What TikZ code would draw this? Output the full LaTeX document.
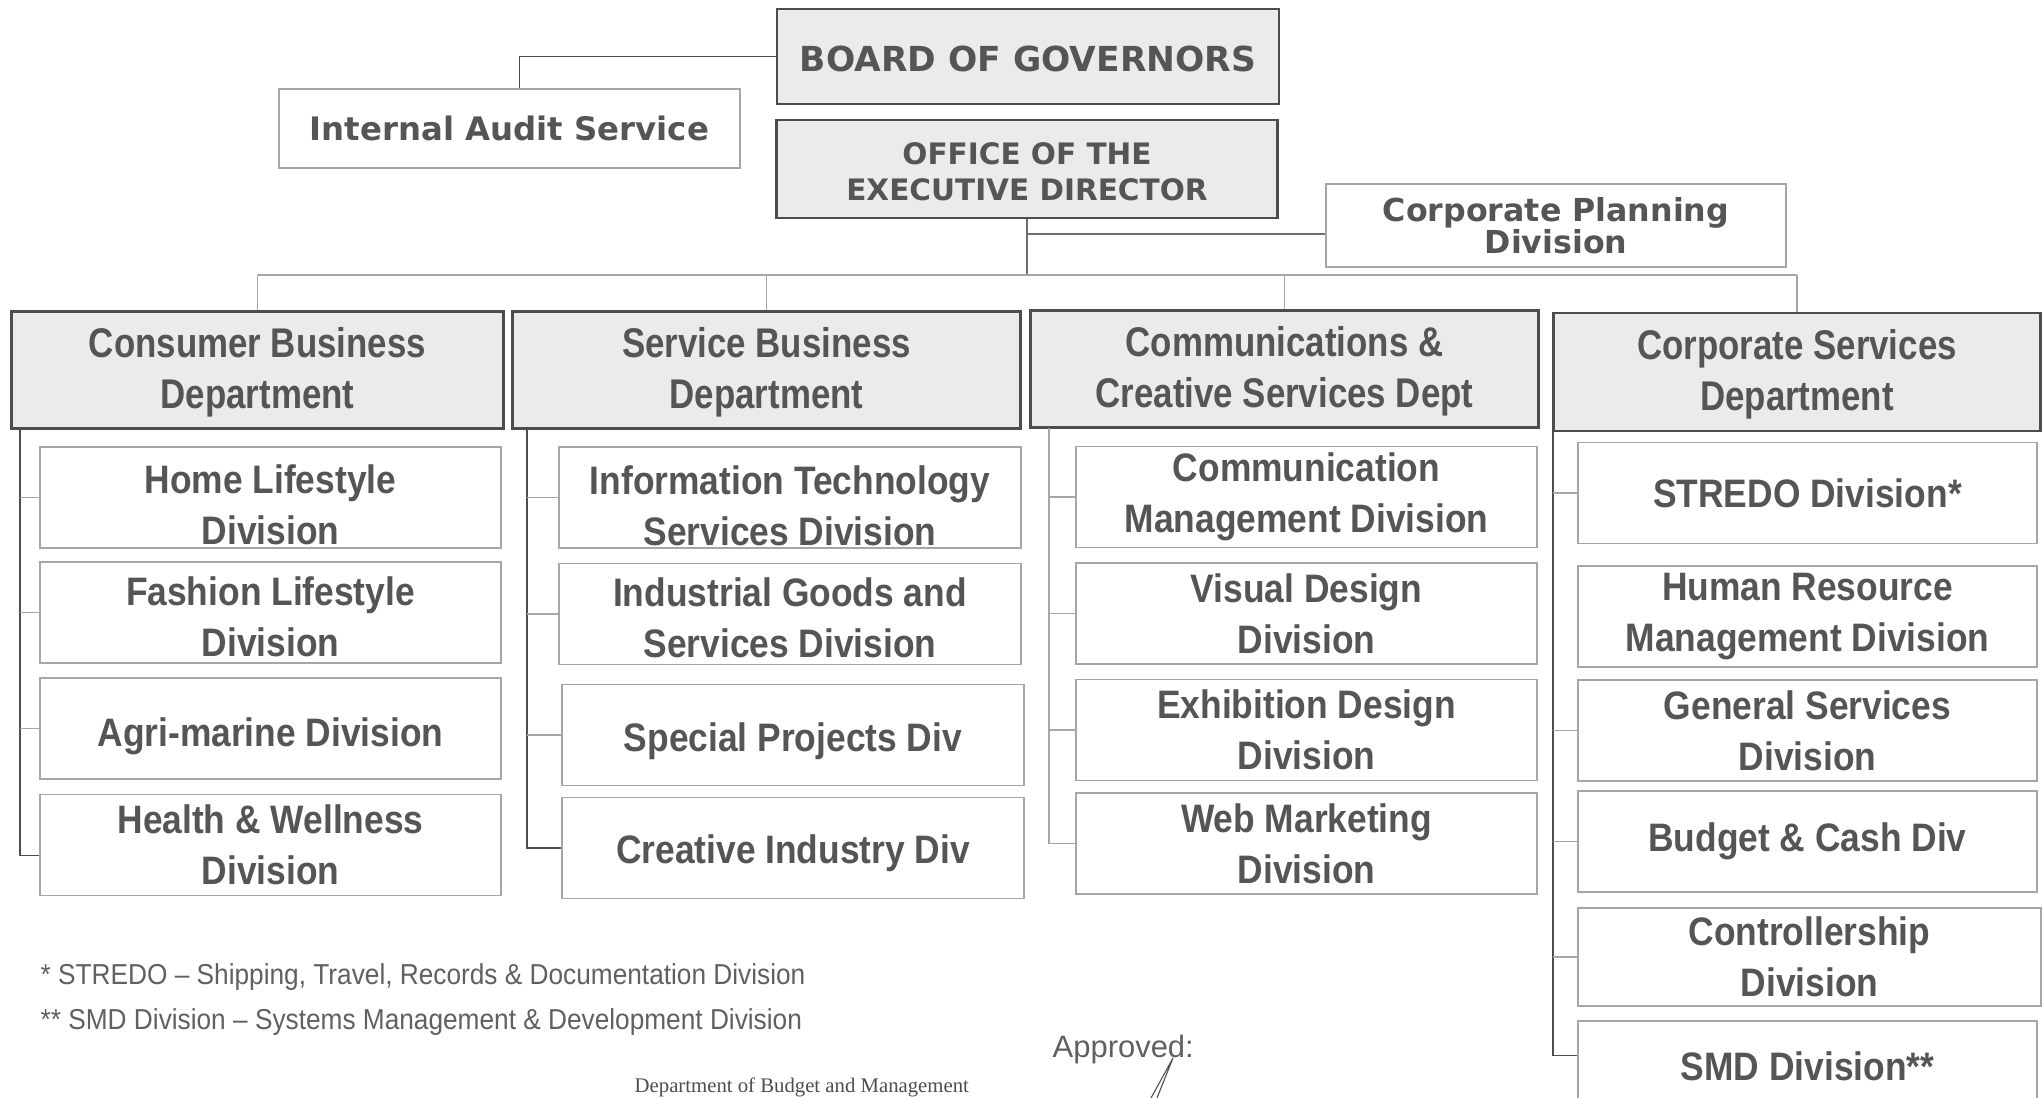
\documentclass[tikz,border=0pt]{standalone}
\usepackage{fontspec}
\setmainfont{Liberation Sans}
\newfontfamily\verdfont{DejaVu Sans}
\newfontfamily\deptfont[FakeStretch=0.84]{Liberation Sans Bold}
\newfontfamily\divfont[FakeStretch=0.89]{Liberation Sans Bold}
\newfontfamily\notefont[FakeStretch=0.91]{Liberation Sans}
\newfontfamily\dbmfont{Liberation Serif}
\usetikzlibrary{positioning}

\definecolor{inkgray}{HTML}{555555}
\definecolor{notegray}{HTML}{606060}
\definecolor{darkline}{HTML}{4D4D4D}
\definecolor{midline}{HTML}{6E6E6E}
\definecolor{lightline}{HTML}{A6A6A6}
\definecolor{headfill}{HTML}{EBEBEB}

\newcommand{\vbf}[2]{\verdfont\bfseries\fontsize{#1}{#2}\selectfont}
% taller first line, so the text sits a little lower in its box
\newcommand{\dropstrut}[1]{\rule{0pt}{#1}}

\tikzstyle{topbox} = [draw=darkline, line width=0.7pt, fill=headfill, text=inkgray, align=center, inner sep=0pt, font={\vbf{9.8pt}{10pt}}]
\tikzstyle{sidebox} = [draw=lightline, line width=0.4pt, fill=white, text=inkgray, align=center, inner sep=0pt]
\tikzstyle{deptbox} = [draw=darkline, line width=0.8pt, fill=headfill, text=inkgray, align=center, inner sep=0pt, minimum height=1.17cm, font={\deptfont\fontsize{11.8pt}{14.5pt}\selectfont}]
\tikzstyle{divbox} = [draw=lightline, line width=0.4pt, fill=white, text=inkgray, align=center, inner sep=0pt, minimum width=4.61cm, minimum height=1.01cm, font={\divfont\fontsize{11.3pt}{14.5pt}\selectfont}]
\tikzstyle{link} = [draw=midline, line width=0.45pt]
\tikzstyle{spine} = [draw=darkline, line width=0.45pt]
\tikzstyle{tick} = [draw=lightline, line width=0.4pt]
\tikzstyle{note} = [anchor=base west, inner sep=0pt, text=notegray]

\begin{document}
\begin{tikzpicture}[x=0.01cm, y=-0.01cm]
    \useasboundingbox (0,0) rectangle (2042,1098);
    \clip (0,0) rectangle (2042,1098);

    % board and offices
    \node [topbox, minimum width=5.02cm, minimum height=0.95cm] (board) at (1028,56.5) {\dropstrut{8.6pt}BOARD OF GOVERNORS};
    \node [sidebox, minimum width=4.61cm, minimum height=0.79cm, font={\vbf{9.2pt}{10pt}}] (audit) at (509.5,128.5) {Internal Audit Service};
    \node [topbox, minimum width=5.01cm, minimum height=0.98cm, font={\vbf{8.4pt}{10.3pt}}] (office) at (1027,169) {\dropstrut{7.6pt}OFFICE OF THE\\EXECUTIVE DIRECTOR};
    \node [sidebox, minimum width=4.60cm, minimum height=0.83cm, font={\vbf{9pt}{9.1pt}}] (plan) at (1556,225.5) {Corporate Planning\\Division};

    % departments
    \node [deptbox, minimum width=4.91cm] (cons) at (257.5,370) {\dropstrut{10pt}Consumer Business\\Department};
    \node [deptbox, minimum width=5.07cm] (serv) at (766.5,370) {\dropstrut{10pt}Service Business\\Department};
    \node [deptbox, minimum width=5.07cm] (comm) at (1284.5,369) {\dropstrut{10pt}Communications \&\\Creative Services Dept};
    \node [deptbox, minimum width=4.86cm, minimum height=1.18cm] (corp) at (1797,372) {\dropstrut{10pt}Corporate Services\\Department};

    % consumer business divisions
    \node [divbox] (home) at (270.5,497.5) {\dropstrut{12.6pt}Home Lifestyle\\Division};
    \node [divbox] (fashion) at (270.5,612.5) {\dropstrut{10.6pt}Fashion Lifestyle\\Division};
    \node [divbox] (agri) at (270.5,728.5) {\dropstrut{12.4pt}Agri-marine Division};
    \node [divbox] (health) at (270.5,845) {Health \& Wellness\\Division};

    % service business divisions
    \node [divbox, minimum width=4.62cm] (itsd) at (790,497.5) {\dropstrut{12.8pt}Information Technology\\Services Division};
    \node [divbox, minimum width=4.62cm] (indus) at (790,614) {\dropstrut{10.6pt}Industrial Goods and\\Services Division};
    \node [divbox, minimum width=4.62cm] (spec) at (793,735) {\dropstrut{11.8pt}Special Projects Div};
    \node [divbox, minimum width=4.62cm] (creat) at (793,848) {\dropstrut{11pt}Creative Industry Div};

    % communications divisions
    \node [divbox] (cmd) at (1306.5,497) {Communication\\Management Division};
    \node [divbox] (visual) at (1306.5,613.5) {Visual Design\\Division};
    \node [divbox] (exhib) at (1306.5,730) {Exhibition Design\\Division};
    \node [divbox] (web) at (1306.5,843.5) {Web Marketing\\Division};

    % corporate services divisions
    \node [divbox, minimum width=4.59cm] (stredo) at (1807.5,493) {STREDO Division*};
    \node [divbox, minimum width=4.59cm] (hrmd) at (1807.5,616.5) {Human Resource\\Management Division};
    \node [divbox, minimum width=4.59cm] (gsd) at (1807.5,730.5) {General Services\\Division};
    \node [divbox, minimum width=4.59cm] (budget) at (1807.5,841.5) {Budget \& Cash Div};
    \node [divbox, minimum width=4.63cm, minimum height=0.98cm] (ctrl) at (1809.5,957) {Controllership\\Division};
    \node [divbox, minimum width=4.59cm, minimum height=0.90cm] (smd) at (1807.5,1066) {SMD Division**};

    % top links
    \draw [link, draw=darkline] (board.west) -| ([xshift=2.8pt]audit.north);
    \draw [link] (office.south) |- ([yshift=-2.4pt]plan.west);
    \draw [link] (office.south) -- (office.south |- 0,275);
    \draw [tick] (cons.north |- 0,275) -- (corp.north |- 0,275);
    \foreach \d in {cons, serv, comm, corp}
        \draw [tick] (\d.north) -- (\d.north |- 0,275);

    % spines under departments
    \coordinate (sp1) at (20,428);
    \coordinate (sp2) at (527,428);
    \coordinate (sp3) at (1049,428);
    \coordinate (sp4) at (1553,432);

    \draw [spine] (sp1) |- ([yshift=-3pt]health.west);
    \foreach \n in {home, fashion, agri}
        \draw [tick] (\n.west) -- (\n.west -| sp1);

    \draw [spine] (sp2) |- (creat.west);
    \foreach \n in {itsd, indus, spec}
        \draw [tick] (\n.west) -- (\n.west -| sp2);

    \draw [spine, draw=lightline] (sp3) |- (web.west);
    \foreach \n in {cmd, visual, exhib}
        \draw [tick] (\n.west) -- (\n.west -| sp3);

    \draw [spine] (sp4) |- ([yshift=3pt]smd.west);
    \foreach \n in {stredo, gsd, budget, ctrl}
        \draw [tick] (\n.west) -- (\n.west -| sp4);

    % footnotes and approval
    \node [note, font={\notefont\fontsize{8.2pt}{9pt}\selectfont}] (fn1) at (40,985) {* STREDO \textendash{} Shipping, Travel, Records \& Documentation Division};
    \node [note, font={\notefont\fontsize{8.2pt}{9pt}\selectfont}] (fn2) at (40,1030) {** SMD Division \textendash{} Systems Management \& Development Division};
    \node [note, font={\fontsize{8.8pt}{10pt}\selectfont}] (appr) at (1052,1058) {Approved:};
    \node [note, text=darkline, font={\dbmfont\fontsize{5.9pt}{7pt}\selectfont}] (dbm) at (634,1093) {Department of Budget and Management};
    \draw [draw=darkline, line width=0.3pt] (1151,1098) -- (1173,1058) -- (1157,1098);
\end{tikzpicture}
\end{document}
